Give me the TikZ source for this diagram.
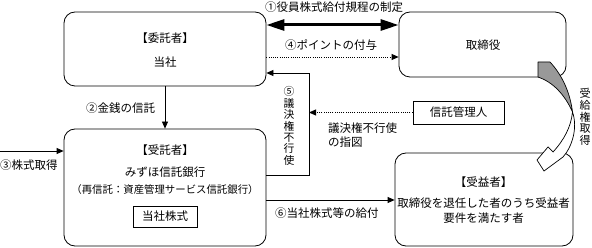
\documentclass[tikz,border=0pt]{standalone}
\usepackage{fontspec}
\newfontfamily\jp{Noto Sans CJK JP}
\usetikzlibrary{arrows.meta}
\begin{document}
\begin{tikzpicture}[x=1pt,y=-1pt,
  font=\jp\fontsize{11.5}{13}\selectfont,
  box/.style={draw, line width=0.8pt, rounded corners=11pt, inner sep=0pt},
  sq/.style={draw, line width=0.8pt, inner sep=0pt},
  txt/.style={inner sep=0pt, anchor=center},
  vtxt/.style={inner sep=0pt, align=center, font=\jp\fontsize{10.8}{11.4}\selectfont},
  conn/.style={line width=0.8pt, -{Triangle[length=7pt,width=6pt]}},
  dotconn/.style={conn, dash pattern=on 1pt off 1.2pt},
  thick arrow/.style={line width=3pt, {Triangle[length=18pt,width=11pt]}-{Triangle[length=18pt,width=11pt]}}]
\useasboundingbox (0,0) rectangle (592,248);

% boxes
\node[box, minimum width=202pt, minimum height=74pt] (itaku) at (165,49) {};
\node[box, minimum width=167pt, minimum height=65pt] (tori) at (482.5,44.5) {};
\node[box, minimum width=202pt, minimum height=117pt] (jutaku) at (165,187.5) {};
\node[box, minimum width=178pt, minimum height=93pt] (jueki) at (484,199.5) {};
\node[sq, minimum width=91pt, minimum height=23pt] (kanri) at (458.5,112.5) {信託管理人};
\node[sq, minimum width=64pt, minimum height=21pt] (kabu) at (165,216.5) {当社株式};

% box texts
\node[txt] (t1) at (165,38) {【委託者】};
\node[txt] (t2) at (165,62) {当社};
\node[txt] (t3) at (483,45) {取締役};
\node[txt] (t4) at (165,150) {【受託者】};
\node[txt] (t5) at (165,172) {みずほ信託銀行};
\node[txt, font=\jp\fontsize{10.4}{12}\selectfont] (t6) at (165,190) {（再信託：資産管理サービス信託銀行）};
\node[txt] (t7) at (483.5,182) {【受益者】};
\node[txt] (t8) at (483.5,203) {取締役を退任した者のうち受益者};
\node[txt] (t9) at (483.5,218) {要件を満たす者};

% labels
\node[txt] (l1) at (334,7) {①役員株式給付規程の制定};
\node[txt] (l4) at (331,45) {④ポイントの付与};
\node[txt, anchor=west] (l2) at (86,108) {②金銭の信託};
\node[txt, anchor=west] (l3) at (0,165) {③株式取得};
\node[txt, anchor=west] (l6) at (275,213) {⑥当社株式等の給付};
\node[inner sep=0pt, align=left, anchor=north west, font=\jp\fontsize{11.5}{13.5}\selectfont] (l7) at (328,123) {議決権不行使\\の指図};
\node[vtxt] (l5) at (289,126) {⑤\\議\\決\\権\\不\\行\\使};
\node[vtxt, font=\jp\fontsize{11}{11.8}\selectfont] (l8) at (585,117) {受\\給\\権\\取\\得};

% connectors
\coordinate (y1) at (0,25);
\coordinate (y4) at (0,57);
\coordinate (y5t) at (0,73);
\coordinate (y5b) at (0,175);
\coordinate (y6) at (0,200);
\coordinate (s3) at (0,151);
\coordinate (c5a) at (309,175);
\coordinate (c5b) at (309,73);

\draw[thick arrow] (itaku.east |- y1) -- (tori.west |- y1);
\draw[dotconn] (itaku.east |- y4) -- (tori.west |- y4);
\draw[conn] (itaku.south) -- (jutaku.north);
\draw[conn] (s3) -- (jutaku.west |- s3);
\draw[conn] (jutaku.east |- y6) -- (jueki.west |- y6);
\draw[conn] (jutaku.east |- y5b) -- (c5a) -- (c5b) -- (itaku.east |- y5t);
\draw[dotconn] (kanri.west) -- (c5a |- kanri.west);

% curved arrow (受給権取得)
\coordinate (g) at (572.5,112);
\filldraw[fill=black!40, line width=0.7pt, line join=round]
  (538,62) -- (550,62) .. controls (562,75) and (570,92) .. (g)
  .. controls (565,95) and (553,82) .. (538,77) -- cycle;
\filldraw[fill=white, line width=0.7pt, line join=miter]
  (g) .. controls (578,128) and (572,147) .. (563,157)
  -- (544,171) -- (537,160) -- (548,147) -- (553,152)
  .. controls (564,140) and (571,127) .. (g) -- cycle;
\end{tikzpicture}
\end{document}
